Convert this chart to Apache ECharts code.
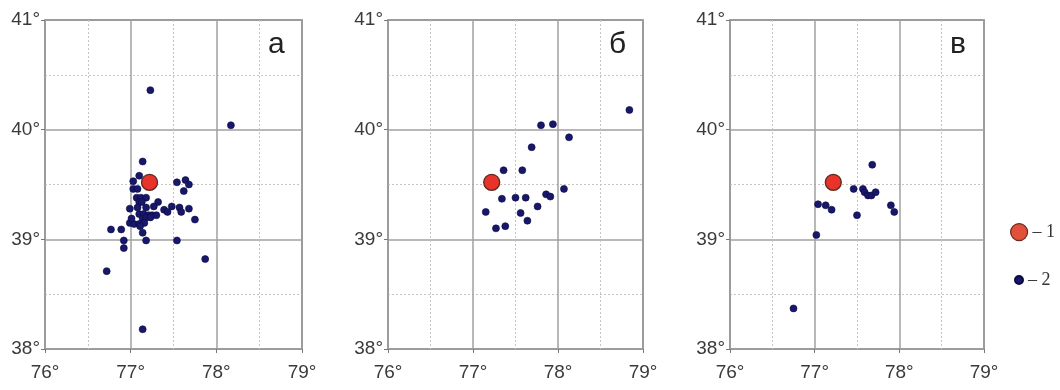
<!DOCTYPE html>
<html>
<head>
<meta charset="utf-8">
<script src="https://cdn.jsdelivr.net/npm/echarts@6/dist/echarts.min.js"></script>
<style>
  html, body { margin: 0; padding: 0; background: #fff; }
  #chart { width: 1060px; height: 390px; }
</style>
</head>
<body>
<div id="chart"></div>
<script>
// Epicentre (lon, lat) of the main event, shown in every panel
const mainShock = [[77.22, 39.52]];

// Panel labels
const panelNames = ['а', 'б', 'в'];

// Axis ticks (degrees)
const lonTicks = [76, 77, 78, 79];
const latTicks = [38, 39, 40, 41];

// Events, panel а
const eventsA = [
  [77.23, 40.36], [78.17, 40.04], [77.14, 39.71], [77.10, 39.58], [77.03, 39.53],
  [77.03, 39.46], [77.08, 39.46], [77.54, 39.52], [77.64, 39.54], [77.68, 39.50],
  [77.62, 39.44], [77.07, 39.38], [77.12, 39.38], [77.18, 39.38], [77.10, 39.34],
  [77.13, 39.34], [77.32, 39.34], [77.27, 39.30], [76.99, 39.28], [77.08, 39.29],
  [77.18, 39.29], [77.39, 39.27], [77.43, 39.25], [77.48, 39.30], [77.57, 39.29],
  [77.59, 39.25], [77.68, 39.28], [77.75, 39.18], [77.10, 39.23], [77.15, 39.23],
  [77.21, 39.22], [77.25, 39.22], [77.30, 39.22], [77.14, 39.19], [77.18, 39.20],
  [77.23, 39.20], [76.99, 39.15], [77.04, 39.14], [77.10, 39.14], [77.16, 39.15],
  [77.01, 39.19], [77.11, 39.12], [76.77, 39.09], [76.89, 39.09], [77.14, 39.06],
  [77.18, 38.99], [77.54, 38.99], [76.92, 38.99], [76.92, 38.92], [77.87, 38.82],
  [76.72, 38.71], [77.14, 38.18]
];

// Events, panel б
const eventsB = [
  [78.84, 40.18], [77.80, 40.04], [77.94, 40.05], [78.13, 39.93], [77.69, 39.84],
  [77.36, 39.63], [77.58, 39.63], [78.07, 39.46], [77.34, 39.37], [77.50, 39.38],
  [77.62, 39.38], [77.86, 39.41], [77.91, 39.39], [77.76, 39.30], [77.15, 39.25],
  [77.56, 39.24], [77.64, 39.17], [77.38, 39.12], [77.27, 39.10]
];

// Events, panel в
const eventsC = [
  [77.68, 39.68], [77.46, 39.46], [77.57, 39.46], [77.59, 39.43], [77.63, 39.40],
  [77.67, 39.40], [77.72, 39.43], [77.90, 39.31], [77.94, 39.25], [77.04, 39.32],
  [77.13, 39.31], [77.20, 39.27], [77.50, 39.22], [77.02, 39.04], [76.75, 38.37]
];

const eventSets = [eventsA, eventsB, eventsC];

const chart = echarts.init(document.getElementById('chart'));

const gridPos = [
  { left: 45, width: 257 },
  { left: 388, width: 255 },
  { left: 730, width: 254 }
];

const labelFont = { fontFamily: '"Liberation Sans", Arial, sans-serif', fontSize: 19, color: '#3a3a3a' };

const grids = gridPos.map(g => ({
  left: g.left, width: g.width, top: 20, height: 329,
  show: true, borderColor: '#6e6e6e', borderWidth: 1.5, backgroundColor: '#fff'
}));

const xAxes = gridPos.map((g, i) => ({
  type: 'value', gridIndex: i, min: lonTicks[0], max: lonTicks[lonTicks.length - 1], interval: 1,
  axisLine: { show: false },
  axisTick: { show: true, length: 4, lineStyle: { color: '#777' } },
  axisLabel: Object.assign({ margin: 14, formatter: v => v + '°' }, labelFont),
  splitLine: { show: true, lineStyle: { color: '#a0a0a0', width: 1.5 } },
  minorTick: { show: false, splitNumber: 2 },
  minorSplitLine: { show: true, lineStyle: { color: '#c4c4c4', width: 1, type: [2, 2] } }
}));

const yAxes = gridPos.map((g, i) => ({
  type: 'value', gridIndex: i, min: latTicks[0], max: latTicks[latTicks.length - 1], interval: 1,
  axisLine: { show: false },
  axisTick: { show: true, length: 4, lineStyle: { color: '#777' } },
  axisLabel: Object.assign({ margin: 5, formatter: v => v + '°' }, labelFont),
  splitLine: { show: true, lineStyle: { color: '#a0a0a0', width: 1.5 } },
  minorTick: { show: false, splitNumber: 2 },
  minorSplitLine: { show: true, lineStyle: { color: '#c4c4c4', width: 1, type: [2, 2] } }
}));

const series = [];
eventSets.forEach((set, i) => {
  series.push({
    name: '– 2', type: 'scatter', xAxisIndex: i, yAxisIndex: i, data: set,
    symbolSize: 7, silent: true,
    itemStyle: { color: '#17176b', borderColor: '#0a0a40', borderWidth: 0.6, opacity: 1 }
  });
  series.push({
    name: '– 1', type: 'scatter', xAxisIndex: i, yAxisIndex: i, data: mainShock,
    symbolSize: 16, silent: true, z: 3,
    itemStyle: { color: '#e8332b', borderColor: '#5a2a1e', borderWidth: 1.3, opacity: 1 }
  });
});

const legendText = { fontFamily: '"Liberation Serif", "Times New Roman", serif', fontSize: 18, color: '#333' };

chart.setOption({
  animation: false,
  grid: grids,
  xAxis: xAxes,
  yAxis: yAxes,
  series: series,
  legend: [
    { data: ['– 1'], left: 1008, top: 221, itemWidth: 17, itemHeight: 17, padding: 2,
      icon: 'circle', textStyle: legendText, selectedMode: false,
      itemStyle: { color: '#e0503a', borderColor: '#6a2a1e', borderWidth: 1.2 } },
    { data: ['– 2'], left: 1012, top: 269, itemWidth: 8, itemHeight: 8, padding: 2,
      icon: 'circle', textStyle: legendText, selectedMode: false,
      itemStyle: { color: '#17176b' } }
  ],
  graphic: panelNames.map((t, i) => ({
    type: 'text',
    left: gridPos[i].left + gridPos[i].width - 34,
    top: 30,
    style: { text: t, fontFamily: '"Liberation Sans", Arial, sans-serif', fontSize: 30, fill: '#222' }
  }))
});
</script>
</body>
</html>
